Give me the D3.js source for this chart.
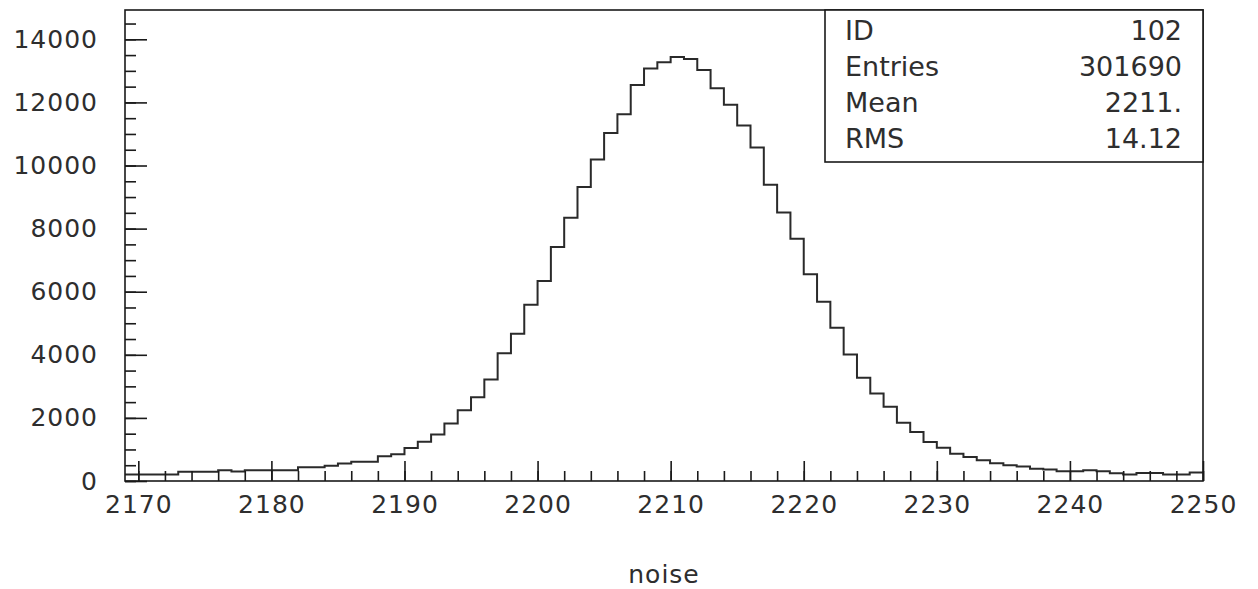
<!DOCTYPE html>
<html>
<head>
<meta charset="utf-8">
<script src="https://cdn.jsdelivr.net/npm/d3@7"></script>
<style>
  html, body { margin: 0; padding: 0; background: #fff; }
  svg text { font-family: "DejaVu Sans ExtraLight", "DejaVu Sans", sans-serif; fill: #2e2e2e; }
</style>
</head>
<body>
<svg id="chart" width="1258" height="589"></svg>
<script>
// Histogram "noise": 81 unit-wide bins starting at 2169
const binStart = 2169;
const binWidth = 1;
const counts = [
  210, 210, 210, 210, 294, 294, 294, 340, 300, 340,
  340, 340, 340, 434, 434, 484, 554, 611, 611, 782,
  845, 1044, 1244, 1470, 1820, 2240, 2655, 3219, 4051, 4665,
  5583, 6342, 7418, 8346, 9318, 10191, 11027, 11628, 12555, 13071,
  13274, 13440, 13379, 13030, 12451, 11923, 11268, 10571, 9391, 8514,
  7682, 6552, 5678, 4855, 4010, 3273, 2776, 2355, 1848, 1551,
  1234, 1057, 867, 760, 655, 560, 497, 456, 392, 361,
  307, 307, 340, 307, 243, 203, 253, 253, 203, 203,
  266
];

// Axis ticks
const xMajorTicks = [2170, 2180, 2190, 2200, 2210, 2220, 2230, 2240, 2250];
const xMinorTicks = d3.range(2170, 2251, 2);
const yMajorTicks = [0, 2000, 4000, 6000, 8000, 10000, 12000, 14000];
const yMinorTicks = d3.range(0, 14501, 500);

// Statistics box
const statLabels = ["ID", "Entries", "Mean", "RMS"];
const statValues = ["102", "301690", "2211.", "14.12"];

const xTitle = "noise";

const frame = { left: 125, right: 1203, top: 10, bottom: 481 };
const ink = "#1a1a1a";

const svg = d3.select("#chart");

const x = d3.scaleLinear()
  .domain([binStart, binStart + counts.length * binWidth])
  .range([frame.left, frame.right]);
const y = d3.scaleLinear()
  .domain([0, 14929])
  .range([frame.bottom, frame.top]);

// Histogram outline
const pts = counts.map((c, i) => [binStart + i * binWidth, c]);
pts.push([binStart + counts.length * binWidth, counts[counts.length - 1]]);
const step = d3.line()
  .x(d => x(d[0]))
  .y(d => y(d[1]))
  .curve(d3.curveStepAfter);
svg.append("path")
  .attr("d", step(pts))
  .attr("fill", "none")
  .attr("stroke", "#2a2a2a")
  .attr("stroke-width", 2);

// Minor ticks (inward)
svg.append("g")
  .attr("transform", `translate(0,${frame.bottom})`)
  .call(d3.axisBottom(x).tickValues(xMinorTicks).tickSize(-10).tickFormat(""))
  .call(g => g.select(".domain").remove())
  .call(g => g.selectAll("line").attr("stroke", ink).attr("stroke-width", 1.6));
svg.append("g")
  .attr("transform", `translate(${frame.left},0)`)
  .call(d3.axisLeft(y).tickValues(yMinorTicks).tickSize(-11).tickFormat(""))
  .call(g => g.select(".domain").remove())
  .call(g => g.selectAll("line").attr("stroke", ink).attr("stroke-width", 1.6));

// Major ticks with labels
svg.append("g")
  .attr("transform", `translate(0,${frame.bottom})`)
  .call(d3.axisBottom(x).tickValues(xMajorTicks).tickSize(-20).tickPadding(14).tickFormat(d3.format("d")))
  .call(g => g.select(".domain").remove())
  .call(g => g.selectAll("line").attr("stroke", ink).attr("stroke-width", 1.6))
  .call(g => g.selectAll("text")
    .attr("font-size", 25)
    .attr("letter-spacing", 1)
    .attr("fill", null)
    .attr("font-family", null));
svg.append("g")
  .attr("transform", `translate(${frame.left},0)`)
  .call(d3.axisLeft(y).tickValues(yMajorTicks).tickSize(-22).tickPadding(27).tickFormat(d3.format("d")))
  .call(g => g.select(".domain").remove())
  .call(g => g.selectAll("line").attr("stroke", ink).attr("stroke-width", 1.6))
  .call(g => g.selectAll("text")
    .attr("font-size", 25)
    .attr("letter-spacing", 1)
    .attr("fill", null)
    .attr("font-family", null));

// Frame
svg.append("rect")
  .attr("x", frame.left).attr("y", frame.top)
  .attr("width", frame.right - frame.left)
  .attr("height", frame.bottom - frame.top)
  .attr("fill", "none")
  .attr("stroke", ink)
  .attr("stroke-width", 1.6);

// Axis title
svg.append("text")
  .attr("x", (frame.left + frame.right) / 2)
  .attr("y", 583)
  .attr("text-anchor", "middle")
  .attr("font-size", 25)
  .attr("letter-spacing", 1)
  .text(xTitle);

// Statistics box
const box = { left: 825, right: frame.right, top: frame.top, bottom: 162 };
svg.append("rect")
  .attr("x", box.left).attr("y", box.top)
  .attr("width", box.right - box.left)
  .attr("height", box.bottom - box.top)
  .attr("fill", "#fff")
  .attr("stroke", ink)
  .attr("stroke-width", 1.6);
const rowBase = [40, 76, 112, 148];
const rows = svg.append("g").selectAll("g")
  .data(statLabels.map((l, i) => ({ label: l, value: statValues[i], yb: rowBase[i] })))
  .join("g");
rows.append("text")
  .attr("x", 845).attr("y", d => d.yb)
  .attr("font-size", 27)
  .text(d => d.label);
rows.append("text")
  .attr("x", 1182).attr("y", d => d.yb)
  .attr("text-anchor", "end")
  .attr("font-size", 27)
  .text(d => d.value);
</script>
</body>
</html>
